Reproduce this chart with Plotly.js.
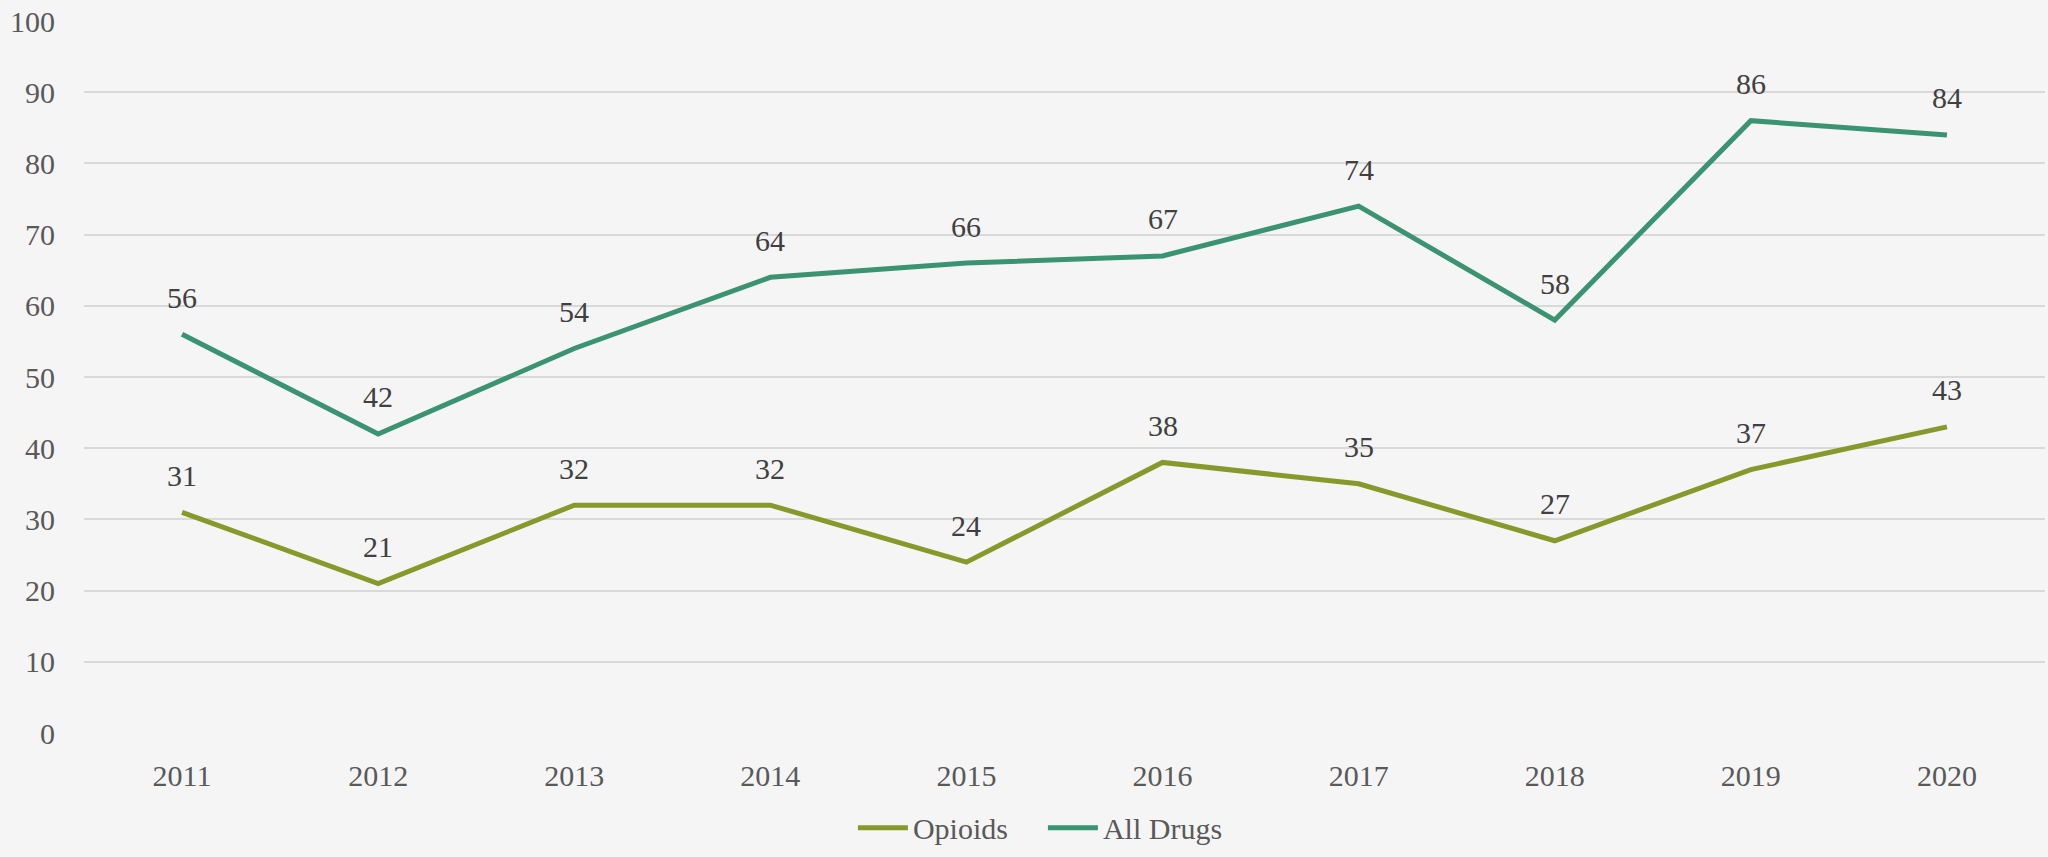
<!DOCTYPE html>
<html>
<head>
<meta charset="utf-8">
<script src="https://cdn.plot.ly/plotly-3.0.1.min.js"></script>
<style>
html,body{margin:0;padding:0;background:#f5f5f5;}
#chart{width:2048px;height:857px;}
</style>
</head>
<body>
<div id="chart"></div>
<script>
const years = ['2011','2012','2013','2014','2015','2016','2017','2018','2019','2020'];
const opioids = [31,21,32,32,24,38,35,27,37,43];
const allDrugs = [56,42,54,64,66,67,74,58,86,84];
const yTicks = [0,10,20,30,40,50,60,70,80,90,100];

const FONT = '"Liberation Serif", "DejaVu Serif", serif';
const OLIVE = '#87992b';
const TEAL = '#3a9373';

const traces = [
  {x: years, y: opioids, name: 'Opioids', type: 'scatter', mode: 'lines',
   line: {color: OLIVE, width: 5}},
  {x: years, y: allDrugs, name: 'All Drugs', type: 'scatter', mode: 'lines',
   line: {color: TEAL, width: 5}}
];

const annotations = [];
[opioids, allDrugs].forEach(function (series) {
  series.forEach(function (v, i) {
    annotations.push({x: i, y: v, text: String(v), showarrow: false,
      xref: 'x', yref: 'y', yshift: 37, xanchor: 'center', yanchor: 'middle',
      font: {family: FONT, size: 30, color: '#404040'}});
  });
});

const layout = {
  width: 2048, height: 857,
  paper_bgcolor: '#f5f5f5', plot_bgcolor: '#f5f5f5',
  margin: {l: 84, r: 3, t: 21, b: 116},
  font: {family: FONT, size: 30, color: '#595959'},
  xaxis: {type: 'category', range: [-0.5, 9.5], showgrid: false, zeroline: false,
          showline: false, ticks: 'outside', ticklen: 16, tickcolor: 'rgba(0,0,0,0)',
          tickfont: {family: FONT, size: 30, color: '#595959'}},
  yaxis: {range: [0, 100], tickvals: yTicks, showgrid: true, gridcolor: '#d9d9d9', gridwidth: 1.5,
          zeroline: false, showline: false, ticks: 'outside', ticklen: 22, tickcolor: 'rgba(0,0,0,0)',
          tickfont: {family: FONT, size: 30, color: '#595959'}},
  showlegend: true,
  legend: {orientation: 'h', x: 0.489, xanchor: 'center', y: -0.133, yanchor: 'middle',
           itemwidth: 50, entrywidth: 125, entrywidthmode: 'pixels',
           font: {family: FONT, size: 30, color: '#595959'}, bgcolor: 'rgba(0,0,0,0)'},
  annotations: annotations
};

Plotly.newPlot('chart', traces, layout, {displayModeBar: false});
</script>
</body>
</html>
